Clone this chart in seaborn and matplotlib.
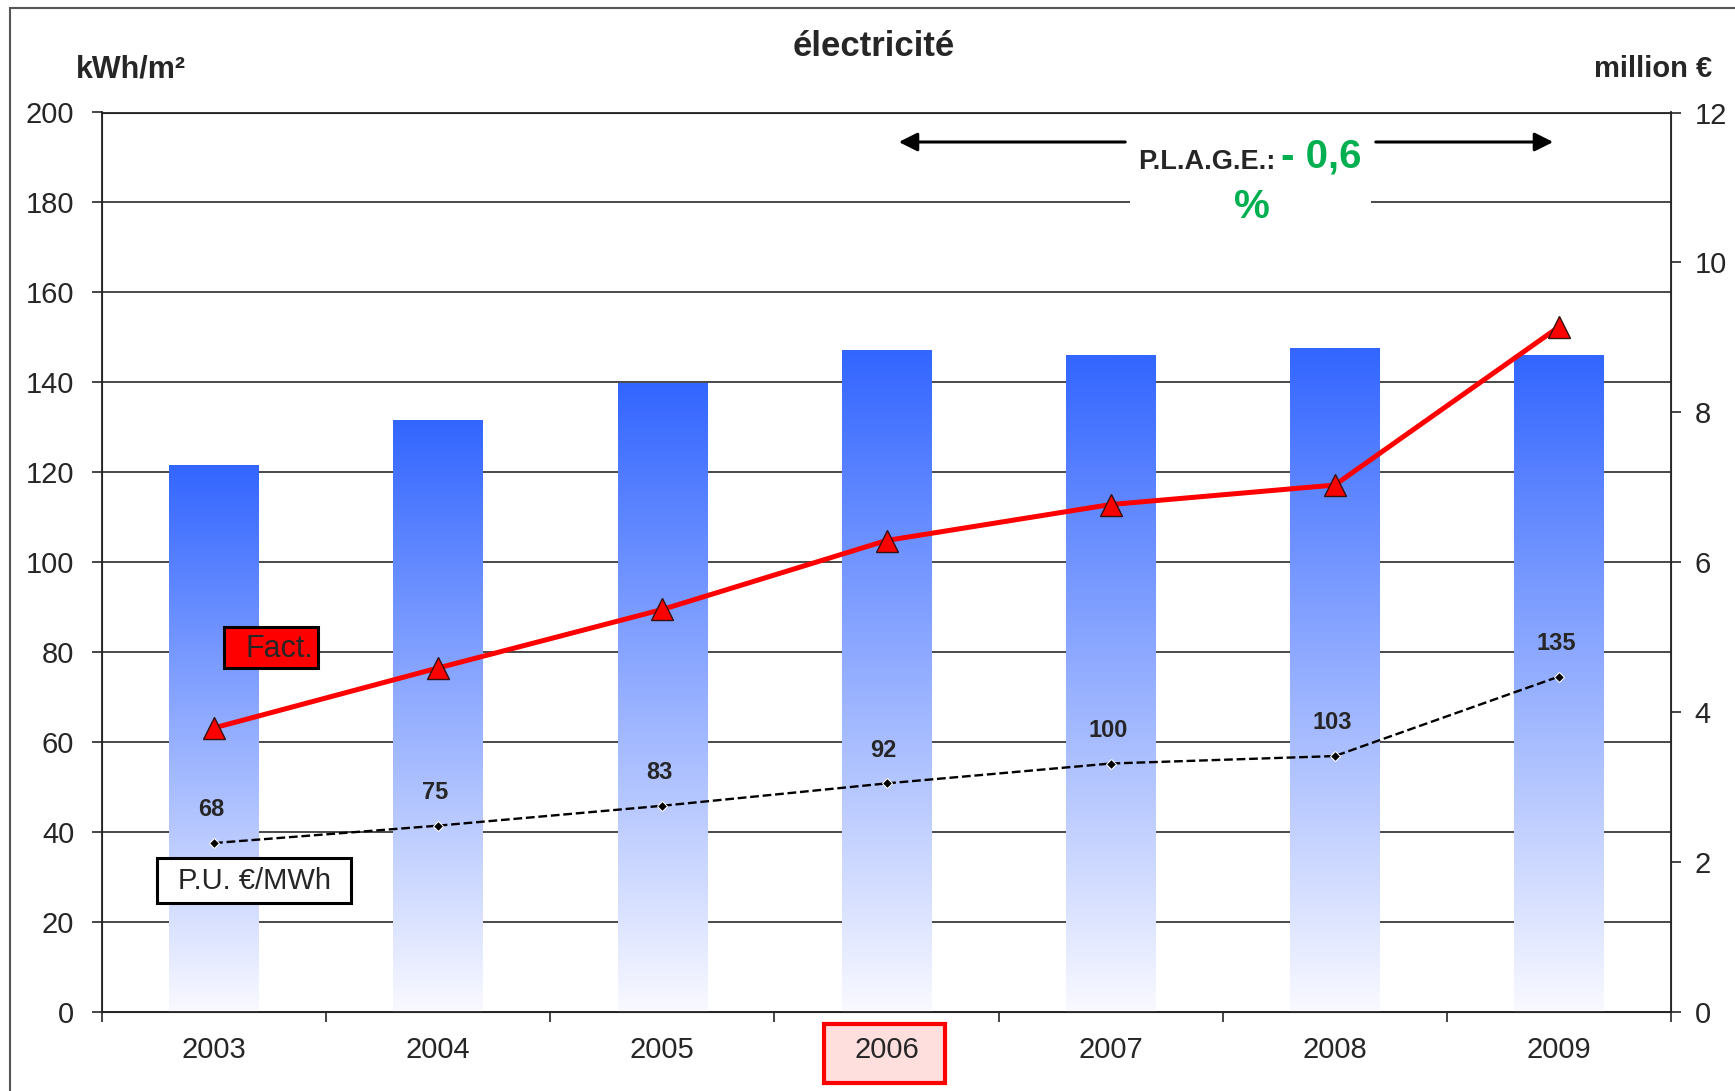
import numpy as np
import pandas as pd
import seaborn as sns
import matplotlib.pyplot as plt
from matplotlib.patches import Rectangle
from matplotlib.colors import LinearSegmentedColormap

years = ['2003', '2004', '2005', '2006', '2007', '2008', '2009']
kwh_m2 = [121.5, 131.5, 139.7, 147.0, 146.0, 147.5, 146.0]   # bars, left axis
fact_meur = [3.79, 4.59, 5.37, 6.29, 6.77, 7.03, 9.14]      # red line, right axis
pu_eur_mwh = [68, 75, 83, 92, 100, 103, 135]                # dashed line, hidden axis

sns.set_style('white')
plt.rcParams['font.family'] = ['Liberation Sans', 'DejaVu Sans']

W, H = 1735, 1091
def fx(px):
    return px / W
def fy(py):
    return 1 - py / H

fig = plt.figure(figsize=(W / 100, H / 100), dpi=100)
ax = fig.add_axes([fx(102), fy(1012), (1671 - 102) / W, (1012 - 112.5) / H])

df = pd.DataFrame({'year': years, 'kwh': kwh_m2, 'fact': fact_meur, 'pu': pu_eur_mwh})
pos = np.arange(len(years))

sns.barplot(data=df, x='year', y='kwh', width=0.4, color='#3366ff', ax=ax)

# vertical gradient fill for each bar
grad = np.linspace(0, 1, 256).reshape(-1, 1)
cmap = LinearSegmentedColormap.from_list('bar', ['#f9f9ff', '#3366ff'])
for p in ax.patches:
    x0, y0, w, h = p.get_x(), p.get_y(), p.get_width(), p.get_height()
    ax.imshow(grad, extent=[x0, x0 + w, y0, y0 + h], origin='lower', cmap=cmap,
              aspect='auto', zorder=1, interpolation='bilinear')
    p.set_facecolor('none')
    p.set_edgecolor('none')

ax.set_axisbelow(True)
ax.yaxis.grid(True, color='#3a3a3a', lw=1.3)
ax.set_ylim(0, 200)
ax.set_yticks(range(0, 201, 20))
ax.set_xlabel('')
ax.set_ylabel('')
ax.tick_params(axis='y', left=True, length=7, width=1.2, direction='out', labelsize=21, pad=13)
ax.set_xticks(pos)
ax.set_xticklabels(years)
ax.set_xticks(np.arange(-0.5, len(years), 1), minor=True)
ax.tick_params(axis='x', which='major', bottom=False, length=0, labelsize=21, pad=17)
ax.tick_params(axis='x', which='minor', bottom=True, length=7, width=1.2, direction='out')
for s in ax.spines.values():
    s.set_color('#222222')
    s.set_linewidth(1.3)

# right axis: invoiced amount (million EUR)
ax2 = ax.twinx()
sns.lineplot(x=pos, y=fact_meur, ax=ax2, color='#ff0000', lw=3.6, marker='^', markersize=16,
             markeredgecolor='#331111', markeredgewidth=1)
ax2.set_ylim(0, 12)
ax2.set_yticks(range(0, 13, 2))
ax2.set_ylabel('')
ax2.tick_params(axis='y', right=True, length=7, width=1.2, direction='out', labelsize=21, pad=10)

# hidden axis for unit price
ax3 = ax.twinx()
sns.lineplot(x=pos, y=pu_eur_mwh, ax=ax3, color='black', lw=1.7, linestyle='--',
             marker='D', markersize=5)
ax3.set_ylim(0, 362)
ax3.axis('off')
for i, v in enumerate(pu_eur_mwh):
    ax3.annotate(str(v), (i, v), xytext=(-2, 24), textcoords='offset points',
                 ha='center', va='center', fontsize=17, fontweight='bold')

ax.set_xlim(-0.5, len(years) - 0.5)

# highlight of 2006 tick label
ax.add_patch(Rectangle((fx(824), fy(1083)), (945 - 824) / W, (1083 - 1024) / H,
                       transform=fig.transFigure, fc='#ffdede', ec='#ff0000', lw=3,
                       clip_on=False, zorder=0.4))

# titles
fig.text(fx(874), fy(46), 'électricité', ha='center', va='center', fontsize=25, fontweight='bold')
fig.text(fx(131), fy(69), 'kWh/m²', ha='center', va='center', fontsize=22, fontweight='bold')
fig.text(fx(1653), fy(69), 'million €', ha='center', va='center', fontsize=21, fontweight='bold')

# series labels
fig.add_artist(Rectangle((fx(224), fy(668)), (318 - 224) / W, (668 - 627) / H,
                         transform=fig.transFigure, fc='#ff0000', ec='black', lw=2.2))
fig.text(fx(313), fy(649), 'Fact.', ha='right', va='center', fontsize=22)
fig.add_artist(Rectangle((fx(157), fy(903)), (351 - 157) / W, (903 - 858) / H,
                         transform=fig.transFigure, fc='white', ec='black', lw=2.2))
fig.text(fx(254), fy(881), 'P.U. €/MWh', ha='center', va='center', fontsize=21)

# P.L.A.G.E. annotation
ax.annotate('', xy=(fx(896), fy(142)), xytext=(fx(1128), fy(142)), xycoords='figure fraction',
            arrowprops=dict(arrowstyle='-|>', color='black', lw=2.2, mutation_scale=28))
ax.annotate('', xy=(fx(1556), fy(142)), xytext=(fx(1373), fy(142)), xycoords='figure fraction',
            arrowprops=dict(arrowstyle='-|>', color='black', lw=2.2, mutation_scale=28))
fig.add_artist(Rectangle((fx(1130), fy(228)), (1371 - 1130) / W, (228 - 122) / H,
                         transform=fig.transFigure, fc='white', ec='none'))
fig.text(fx(1138), fy(162), 'P.L.A.G.E.:', ha='left', va='center', fontsize=19.5, fontweight='bold')
fig.text(fx(1281), fy(157), '- 0,6', ha='left', va='center', fontsize=29, fontweight='bold',
         color='#00b050')
fig.text(fx(1252), fy(207), '%', ha='center', va='center', fontsize=29, fontweight='bold',
         color='#00b050')

# outer frame
fig.add_artist(Rectangle((fx(10), -0.1), 1.2, fy(8) + 0.1, transform=fig.transFigure,
                         fill=False, ec='#555555', lw=1.5))

fig.savefig('out.png', dpi=100)
